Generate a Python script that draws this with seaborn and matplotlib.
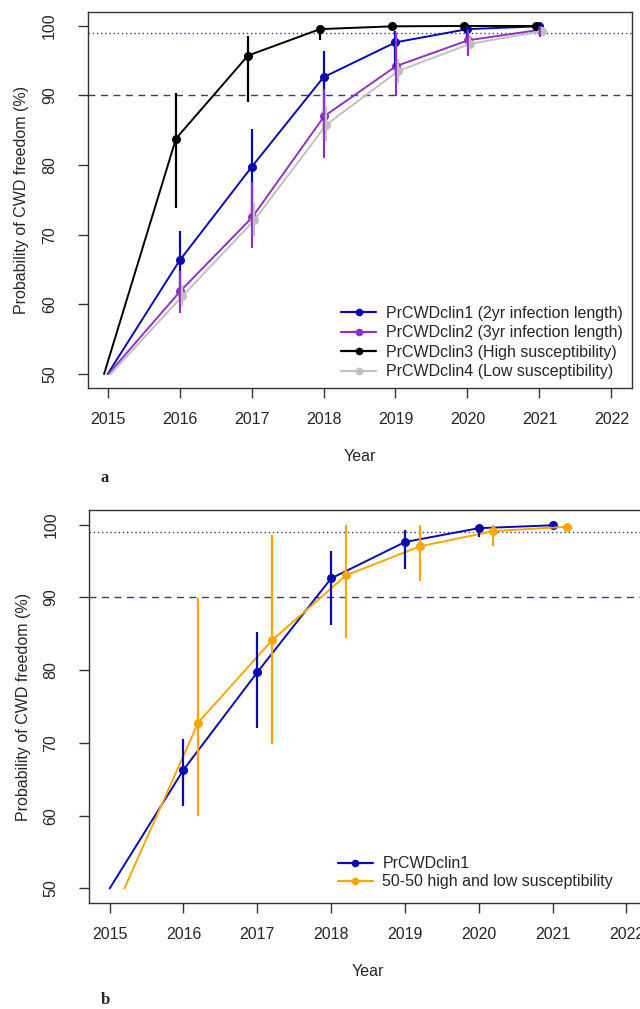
import numpy as np
import pandas as pd
import matplotlib
matplotlib.use("Agg")
import matplotlib.pyplot as plt
import seaborn as sns
from matplotlib.lines import Line2D

# ---------------- data ----------------
years = [2015, 2016, 2017, 2018, 2019, 2020, 2021]

clin1 = [50, 66.3, 79.7, 92.6, 97.6, 99.5, 99.9]
clin1_lo = [np.nan, 61.3, 72.1, 86.2, 93.9, 98.3, 99.7]
clin1_hi = [np.nan, 70.5, 85.2, 96.3, 99.2, 100.0, 100.0]

clin2 = [50, 61.9, 72.5, 87.0, 94.2, 97.9, 99.4]
clin2_lo = [np.nan, 58.8, 68.1, 81.0, 89.9, 95.7, 98.4]
clin2_hi = [np.nan, 64.8, 77.6, 90.9, 98.9, 99.4, 99.9]

clin3 = [50, 83.8, 95.7, 99.5, 99.9, 99.95, 99.95]
clin3_lo = [np.nan, 73.8, 89.0, 98.0, 99.7, 99.8, 99.8]
clin3_hi = [np.nan, 90.3, 98.5, 100.0, 100.0, 100.0, 100.0]

clin4 = [50, 61.2, 72.1, 85.8, 93.5, 97.4, 99.2]
clin4_lo = [np.nan, 59.8, 69.8, 83.5, 91.8, 96.6, 98.8]
clin4_hi = [np.nan, 62.8, 74.5, 88.5, 95.2, 98.3, 99.6]

mix = [50, 72.8, 84.1, 93.0, 97.0, 99.1, 99.7]
mix_lo = [np.nan, 59.9, 69.8, 84.4, 92.3, 97.1, 99.5]
mix_hi = [np.nan, 89.9, 98.5, 100.0, 100.0, 99.9, 99.9]

labels_a = ["PrCWDclin1 (2yr infection length)", "PrCWDclin2 (3yr infection length)",
            "PrCWDclin3 (High susceptibility)", "PrCWDclin4 (Low susceptibility)"]
labels_b = ["PrCWDclin1", "50-50 high and low susceptibility"]
xticks = [2015, 2016, 2017, 2018, 2019, 2020, 2021, 2022]
yticks = [50, 60, 70, 80, 90, 100]
ref_lines = [99, 90]

# ---------------- style ----------------
sns.set_theme(style="ticks")
plt.rcParams['font.family'] = ['Liberation Sans', 'DejaVu Sans']
plt.rcParams['axes.linewidth'] = 1.0
plt.rcParams['axes.edgecolor'] = '#333333'

BLUE = "#0a0ab0"
PURPLE = "#9130c8"
BLACK = "#000000"
GRAY = "#c0c0c0"
ORANGE = "#ffa500"
REF = "#3a3a78"

W, H = 640, 1009
fig = plt.figure(figsize=(W / 100, H / 100), dpi=100)


def px_axes(left, right, top, bottom):
    return fig.add_axes([left / W, 1 - bottom / H, (right - left) / W, (bottom - top) / H])


def draw_series(ax, x, y, lo, hi, color, label, offset):
    xs = np.array(x, dtype=float) + offset
    df = pd.DataFrame({"x": xs, "y": y})
    sns.lineplot(data=df, x="x", y="y", ax=ax, color=color, lw=1.4, marker="o",
                 markersize=6.5, markeredgewidth=0, markevery=list(range(1, len(xs))),
                 label=label, legend=False)
    ax.vlines(xs, lo, hi, color=color, lw=1.6, zorder=3)


def style_axes(ax):
    ax.set_xlim(2014.72, 2022.28)
    ax.set_ylim(48, 102)
    ax.set_xticks(xticks)
    ax.set_yticks(yticks)
    ax.set_xticklabels([str(t) for t in xticks], fontsize=11.5)
    ax.set_yticklabels([str(t) for t in yticks], fontsize=11.5, rotation=90, va="center")
    ax.tick_params(axis="both", direction="out", length=7, width=1, color="#333333")
    ax.tick_params(axis="x", pad=10)
    ax.tick_params(axis="y", pad=15)
    for s in ax.spines.values():
        s.set_visible(True)
    ax.set_xlabel("Year", fontsize=11.5, labelpad=16)
    ax.set_ylabel("Probability of CWD freedom (%)", fontsize=11.5, labelpad=9)
    ax.axhline(ref_lines[0], color=REF, lw=1.0, ls=(0, (1, 2)), zorder=1)
    ax.axhline(ref_lines[1], color=REF, lw=1.0, ls=(0, (5, 4)), zorder=1)


# ---------------- panel a ----------------
axa = px_axes(87.5, 631.5, 11.7, 388)
draw_series(axa, years, clin1, clin1_lo, clin1_hi, BLUE, labels_a[0], 0.0)
draw_series(axa, years, clin2, clin2_lo, clin2_hi, PURPLE, labels_a[1], 0.01)
draw_series(axa, years, clin3, clin3_lo, clin3_hi, BLACK, labels_a[2], -0.05)
draw_series(axa, years, clin4, clin4_lo, clin4_hi, GRAY, labels_a[3], 0.04)
style_axes(axa)
handles_a = [Line2D([], [], color=c, lw=1.6, marker="o", markersize=5.5, markeredgewidth=0)
             for c in (BLUE, PURPLE, BLACK, GRAY)]
axa.legend(handles_a, labels_a, loc="lower right", frameon=False, fontsize=11.5,
           handlelength=2.2, handletextpad=0.6, labelspacing=0.28,
           borderaxespad=0.15, bbox_to_anchor=(1.0, 0.0))

# ---------------- panel b ----------------
axb = px_axes(89, 647, 510, 903)
draw_series(axb, years, clin1, clin1_lo, clin1_hi, BLUE, labels_b[0], 0.0)
draw_series(axb, years, mix, mix_lo, mix_hi, ORANGE, labels_b[1], 0.2)
style_axes(axb)
handles_b = [Line2D([], [], color=c, lw=1.6, marker="o", markersize=5.5, markeredgewidth=0)
             for c in (BLUE, ORANGE)]
axb.legend(handles_b, labels_b, loc="lower right", frameon=False, fontsize=11.5,
           handlelength=2.2, handletextpad=0.6, labelspacing=0.2,
           borderaxespad=0.15, bbox_to_anchor=(0.955, 0.012))

fig.text(105 / W, 1 - 478 / H, "a", fontsize=12, fontweight="bold",
         family=["Liberation Serif", "DejaVu Serif"], ha="center", va="center")
fig.text(105 / W, 1 - 1000 / H, "b", fontsize=12, fontweight="bold",
         family=["Liberation Serif", "DejaVu Serif"], ha="center", va="center")

fig.savefig("out.png", dpi=100, facecolor="white")
